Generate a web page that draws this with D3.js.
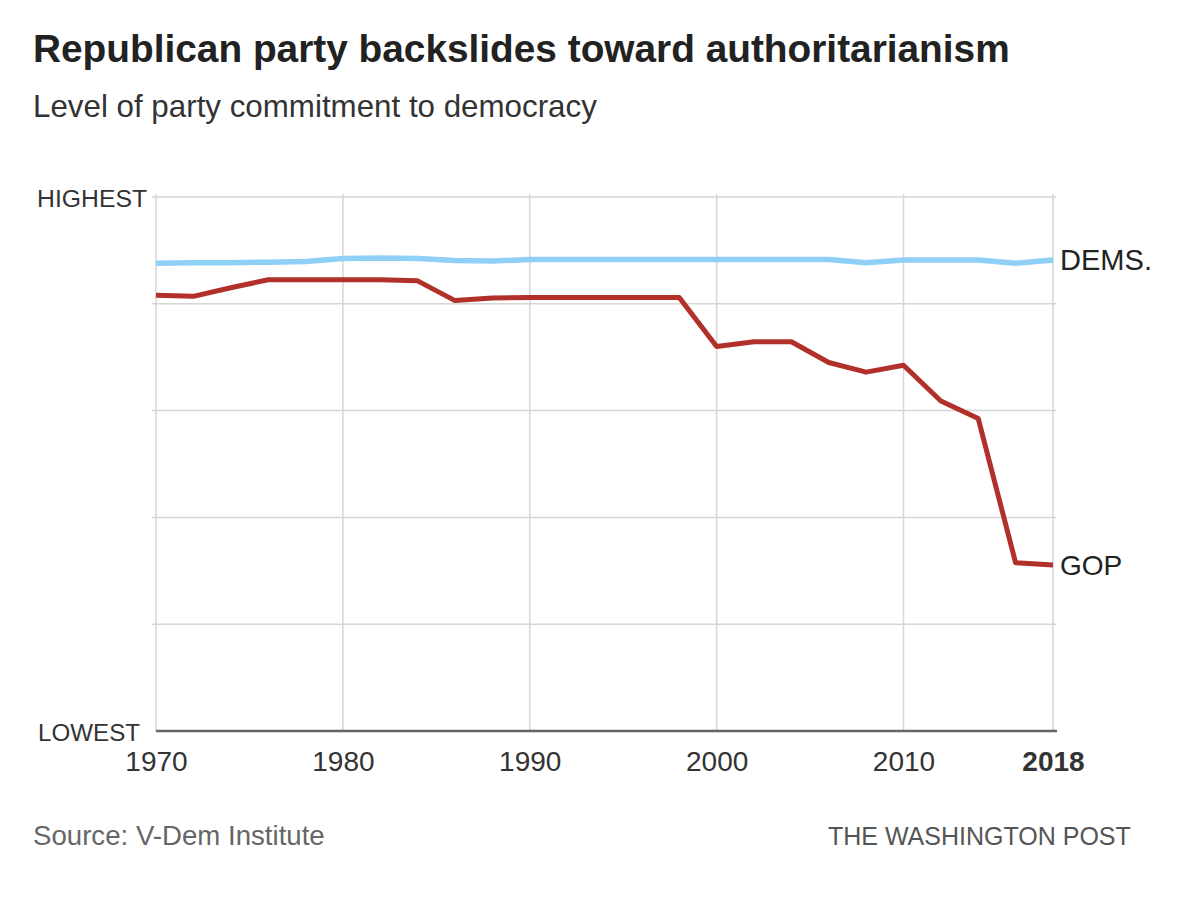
<!DOCTYPE html>
<html>
<head>
<meta charset="utf-8">
<script src="https://cdn.jsdelivr.net/npm/d3@7"></script>
<style>
  body { margin: 0; background: #fff; }
  svg { display: block; }
  text { font-family: "Liberation Sans", Arial, sans-serif; }
</style>
</head>
<body>
<div id="chart"></div>
<script>
// data (0 = lowest, 1 = highest commitment)
const years = [1970, 1972, 1974, 1976, 1978, 1980, 1982, 1984, 1986, 1988, 1990, 1992,
  1994, 1996, 1998, 2000, 2002, 2004, 2006, 2008, 2010, 2012, 2014, 2016, 2018];
const dems = [0.876, 0.877, 0.877, 0.878, 0.879, 0.885, 0.886, 0.885, 0.881, 0.880, 0.883, 0.883,
  0.883, 0.883, 0.883, 0.883, 0.883, 0.883, 0.883, 0.877, 0.882, 0.882, 0.882, 0.876, 0.882];
const gop = [0.816, 0.814, 0.830, 0.845, 0.845, 0.845, 0.845, 0.843, 0.806, 0.811, 0.812, 0.812,
  0.812, 0.812, 0.812, 0.720, 0.729, 0.729, 0.690, 0.672, 0.685, 0.618, 0.585, 0.315, 0.311];
const xTicks = [1970, 1980, 1990, 2000, 2010, 2018];
const yTicks = [0, 0.2, 0.4, 0.6, 0.8, 1];

const width = 1200;
const height = 916;

const svg = d3.select('#chart')
  .append('svg')
  .attr('width', width)
  .attr('height', height);

const x = d3.scaleLinear().domain([1970, 2018]).range([156, 1053]);
const y = d3.scaleLinear().domain([0, 1]).range([731, 197]);

// fit a text to a target width by adjusting font size
function fit(sel, w) {
  const len = sel.node().getComputedTextLength();
  const fs = parseFloat(sel.attr('font-size'));
  sel.attr('font-size', fs * w / len);
}

// title + subtitle
svg.append('text')
  .attr('x', 33).attr('y', 62)
  .attr('font-size', 34).attr('font-weight', 'bold')
  .style('fill', '#222')
  .text('Republican party backslides toward authoritarianism')
  .call(fit, 977);

svg.append('text')
  .attr('x', 33).attr('y', 117)
  .attr('font-size', 28)
  .style('fill', '#333')
  .text('Level of party commitment to democracy')
  .call(fit, 564);

// grid
const grid = svg.append('g');
grid.selectAll('.hgrid')
  .data(yTicks.slice(1))
  .enter()
  .append('line')
  .attr('x1', 152).attr('x2', 1056)
  .attr('y1', (d) => y(d)).attr('y2', (d) => y(d))
  .style('stroke', '#d6d6d6')
  .style('stroke-width', '1.5px');

grid.selectAll('.vgrid')
  .data(xTicks)
  .enter()
  .append('line')
  .attr('x1', (d) => x(d)).attr('x2', (d) => x(d))
  .attr('y1', y(1) - 3).attr('y2', y(0))
  .style('stroke', '#d6d6d6')
  .style('stroke-width', '1.5px');

// bottom axis
const xAxis = svg.append('g')
  .attr('transform', `translate(0,${y(0)})`)
  .call(d3.axisBottom(x).tickValues(xTicks).tickSize(0).tickPadding(20).tickFormat(d3.format('d')));
xAxis.select('.domain')
  .attr('d', `M${x(1970)},0H${x(2018) + 4}`)
  .style('stroke', '#666')
  .style('stroke-width', '2.5px');
xAxis.selectAll('.tick text')
  .attr('font-size', 28)
  .style('font-family', '"Liberation Sans", Arial, sans-serif')
  .style('fill', '#333')
  .style('font-weight', (d) => (d === 2018 ? 'bold' : 'normal'));

// y end labels
svg.append('text')
  .attr('x', 147).attr('y', y(1) + 10)
  .attr('text-anchor', 'end')
  .attr('font-size', 28)
  .style('font-family', '"Liberation Sans Narrow", "Liberation Sans", sans-serif')
  .style('fill', '#333')
  .text('HIGHEST')
  .call(fit, 110);
svg.append('text')
  .attr('x', 140).attr('y', y(0) + 10)
  .attr('text-anchor', 'end')
  .attr('font-size', 28)
  .style('font-family', '"Liberation Sans Narrow", "Liberation Sans", sans-serif')
  .style('fill', '#333')
  .text('LOWEST')
  .call(fit, 102);

// series lines
const line = d3.line()
  .x((d, i) => x(years[i]))
  .y((d) => y(d));

svg.append('path')
  .datum(dems)
  .attr('d', line)
  .style('fill', 'none')
  .style('stroke', '#8fd0f6')
  .style('stroke-width', '5.5px')
  .style('stroke-linejoin', 'round');

svg.append('path')
  .datum(gop)
  .attr('d', line)
  .style('fill', 'none')
  .style('stroke', '#b1302a')
  .style('stroke-width', '5px')
  .style('stroke-linejoin', 'round');

// series labels
svg.append('text')
  .attr('x', 1060).attr('y', y(dems[dems.length - 1]) + 10)
  .attr('font-size', 28)
  .style('fill', '#222')
  .text('DEMS.')
  .call(fit, 92);
svg.append('text')
  .attr('x', 1060).attr('y', y(gop[gop.length - 1]) + 10)
  .attr('font-size', 28)
  .style('fill', '#222')
  .text('GOP');

// footer
svg.append('text')
  .attr('x', 33).attr('y', 845)
  .attr('font-size', 25)
  .style('fill', '#666')
  .text('Source: V-Dem Institute')
  .call(fit, 292);
svg.append('text')
  .attr('x', 828).attr('y', 845)
  .attr('font-size', 25)
  .style('fill', '#555')
  .text('THE WASHINGTON POST')
  .call(fit, 303);
</script>
</body>
</html>
